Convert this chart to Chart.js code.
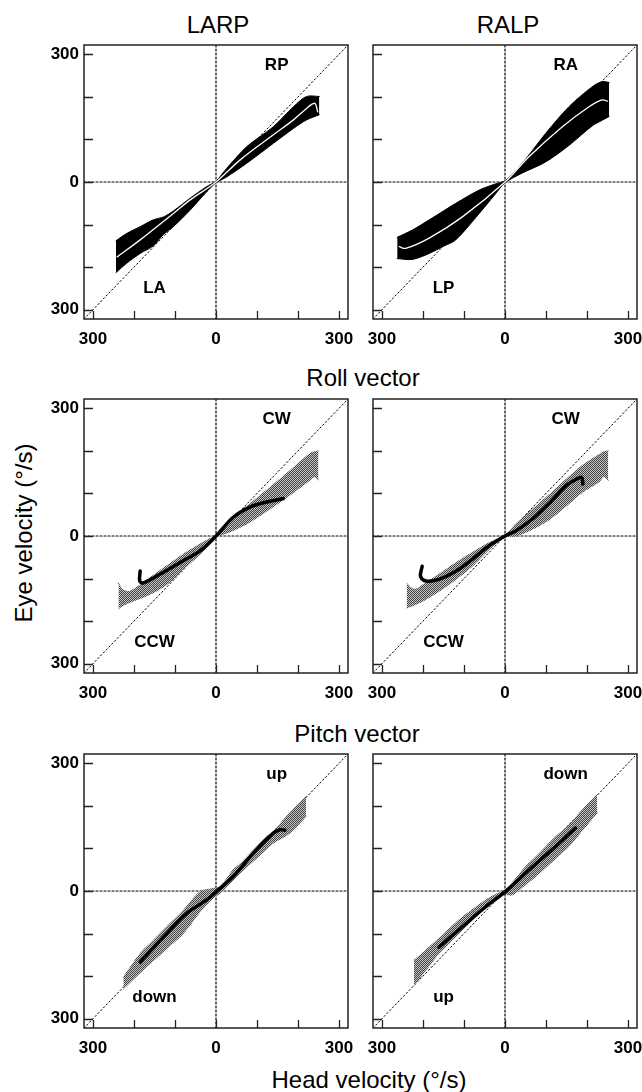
<!DOCTYPE html>
<html>
<head>
<meta charset="utf-8">
<script src="https://cdn.jsdelivr.net/npm/chart.js@4.4.1/dist/chart.umd.min.js"></script>
<style>
  body { margin: 0; width: 642px; height: 1092px; position: relative; overflow: hidden; background: #fff;
         font-family: "Liberation Sans", Arial, Helvetica, sans-serif; }
  canvas { position: absolute; }
  .t { position: absolute; font-size: 24px; line-height: 1; color: #000; white-space: nowrap;
       transform: translate(-50%, -50%); }
</style>
</head>
<body>
<div class="t" style="left:218px;top:25px">LARP</div>
<div class="t" style="left:508px;top:25px">RALP</div>
<div class="t" style="left:363px;top:378px">Roll vector</div>
<div class="t" style="left:357px;top:734px">Pitch vector</div>
<div class="t" style="left:369px;top:1080px">Head velocity (°/s)</div>
<div class="t" style="left:24px;top:533px;transform:translate(-50%,-50%) rotate(-90deg)">Eye velocity (°/s)</div>

<canvas id="larp" width="329" height="320" style="left:24px;top:33px"></canvas>
<canvas id="ralp" width="329" height="320" style="left:313px;top:33px"></canvas>
<canvas id="rollL" width="329" height="320" style="left:24px;top:387px"></canvas>
<canvas id="rollR" width="329" height="320" style="left:313px;top:387px"></canvas>
<canvas id="pitchL" width="329" height="320" style="left:24px;top:742px"></canvas>
<canvas id="pitchR" width="329" height="320" style="left:313px;top:742px"></canvas>

<script>
// axes: head velocity (x) vs eye velocity (y), deg/s
const axisMin = -322;
const axisMax = 322;
const tickValues = [-300, -200, -100, 0, 100, 200, 300];
const labelTicks = [-300, 0, 300];
const refLine = [-322, 322];
const zeroPair = [0, 0];

// LARP
const larpX = [-244, -218, -185, -153, -128, -104, -63, -23, 0, 26, 75, 140, 189, 221, 252];
const larpUpper = [-138, -121, -105, -89, -82, -68, -38, -11, 2, 32, 83, 130, 177, 201, 201];
const larpLower = [-213, -191, -168, -150, -123, -105, -66, -23, -2, 12, 44, 91, 126, 146, 158];
const larpMeanX = [-241, -185, -104, -63, 0, 59, 140, 189, 221, 241, 248];
const larpMeanY = [-176, -136, -74, -42, 0, 52, 111, 146, 173, 185, 165];
const larpNotes = ['RP', 'LA'];

// RALP
const ralpX = [-263, -226, -185, -150, -120, -63, -25, 0, 42, 99, 156, 213, 237, 254];
const ralpUpper = [-130, -113, -89, -68, -50, -19, -5, 3, 44, 114, 177, 224, 236, 234];
const ralpLower = [-180, -182, -168, -151, -136, -74, -30, -2, 21, 47, 86, 132, 145, 154];
const ralpMeanX = [-258, -242, -185, -104, 0, 59, 140, 205, 237, 250];
const ralpMeanY = [-152, -156, -132, -82, 0, 60, 130, 177, 193, 190];
const ralpNotes = ['RA', 'LP'];

// Roll vector, left
const rollLX = [-238, -228, -210, -161, -120, -80, -39, -7, 0, 42, 83, 164, 229, 240, 250];
const rollLUpper = [-110, -126, -130, -98, -70, -43, -19, -2, 1, 45, 76, 140, 194, 198, 200];
const rollLLower = [-171, -164, -156, -137, -114, -78, -43, -11, -3, 13, 33, 85, 131, 139, 131];
const rollLMeanX = [-185, -186, -177, -137, -80, -39, 0, 42, 83, 124, 164];
const rollLMeanY = [-82, -106, -110, -90, -58, -35, 0, 44, 68, 80, 88];
const rollLNotes = ['CW', 'CCW'];

// Roll vector, right
const rollRX = [-240, -226, -214, -202, -161, -120, -80, -39, 0, 26, 67, 110, 150, 189, 229, 241, 252];
const rollRUpper = [-111, -124, -124, -116, -90, -63, -39, -16, 1, 28, 63, 99, 134, 166, 191, 198, 200];
const rollRLower = [-169, -164, -159, -154, -130, -102, -71, -32, -3, 0, 16, 40, 71, 103, 127, 140, 131];
const rollRMeanX = [-202, -206, -193, -161, -120, -80, -39, 0, 26, 67, 110, 150, 175, 187, 190];
const rollRMeanY = [-71, -95, -106, -102, -83, -55, -23, 0, 12, 40, 79, 119, 134, 138, 122];
const rollRNotes = ['CW', 'CCW'];

// Pitch vector, left
const pitchLX = [-226, -185, -161, -120, -80, -39, -7, 10, 42, 59, 124, 140, 180, 220];
const pitchLUpper = [-203, -147, -124, -84, -46, -2, 6, 10, 50, 64, 128, 140, 184, 223];
const pitchLLower = [-230, -192, -171, -135, -100, -49, -17, -5, 26, 42, 99, 113, 136, 176];
const pitchLMeanX = [-185, -120, -72, -23, 0, 42, 91, 140, 156, 168];
const pitchLMeanY = [-167, -100, -53, -21, -2, 34, 89, 136, 144, 143];
const pitchLNotes = ['up', 'down'];

// Pitch vector, right
const pitchRX = [-222, -185, -161, -104, -88, -47, -23, 0, 18, 50, 75, 124, 156, 189, 225];
const pitchRUpper = [-163, -132, -111, -61, -50, -21, -8, 2, 20, 57, 80, 128, 155, 191, 227];
const pitchRLower = [-222, -176, -147, -92, -77, -37, -13, -8, -9, 15, 34, 77, 105, 143, 184];
const pitchRMeanX = [-161, -104, -47, 0, 59, 124, 172];
const pitchRMeanY = [-132, -84, -37, -2, 50, 105, 148];
const pitchRNotes = ['down', 'up'];

const FONT = '"Liberation Sans", Arial, Helvetica, sans-serif';
Chart.defaults.color = '#000';
Chart.defaults.font.family = FONT;

function pts(xs, ys) {
  return xs.map((x, i) => ({ x: x, y: ys[i] }));
}

// fine grey halftone like the printed figure
function stipple(ctx) {
  const tile = document.createElement('canvas');
  tile.width = 2;
  tile.height = 2;
  const g = tile.getContext('2d');
  g.fillStyle = '#c4c4c4';
  g.fillRect(0, 0, 2, 2);
  g.fillStyle = '#444';
  g.fillRect(0, 0, 1, 1);
  g.fillRect(1, 1, 1, 1);
  return ctx.createPattern(tile, 'repeat');
}

// box frame, inward tick marks and quadrant labels
const panelDecor = {
  id: 'panelDecor',
  afterDraw(chart, args, opts) {
    const { ctx, chartArea: a, scales: { x, y } } = chart;
    ctx.save();
    ctx.strokeStyle = '#222';
    ctx.lineWidth = 1.5;
    ctx.strokeRect(a.left, a.top, a.width, a.height);
    ctx.lineWidth = 1.3;
    ctx.beginPath();
    tickValues.forEach(v => {
      const py = Math.round(y.getPixelForValue(v)) + 0.5;
      ctx.moveTo(a.left, py);
      ctx.lineTo(a.left + 9, py);
      const px = Math.round(x.getPixelForValue(v)) + 0.5;
      ctx.moveTo(px, a.bottom);
      ctx.lineTo(px, a.bottom - 8);
    });
    ctx.stroke();

    ctx.font = 'bold 17px ' + FONT;
    ctx.fillStyle = '#000';
    ctx.textAlign = 'center';
    ctx.textBaseline = 'middle';
    ctx.fillText(opts.notes[0], x.getPixelForValue(148), y.getPixelForValue(274));
    ctx.fillText(opts.notes[1], x.getPixelForValue(-150), y.getPixelForValue(-251));
    ctx.restore();
  }
};

function axis(showLabels, isX) {
  return {
    type: 'linear',
    min: axisMin,
    max: axisMax,
    grid: { display: false, drawTicks: false },
    border: { display: false },
    afterBuildTicks: s => { s.ticks = labelTicks.map(v => ({ value: v })); },
    afterFit: s => {
      if (isX) { s.height = 34; s.paddingLeft = 0; s.paddingRight = 0; }
      else { s.width = 60; s.paddingTop = 0; s.paddingBottom = 0; }
    },
    ticks: {
      display: showLabels,
      padding: isX ? 10 : 5,
      autoSkip: false,
      maxRotation: 0,
      font: { size: 17, weight: 'bold' },
      color: '#000',
      callback: v => String(Math.abs(v))
    }
  };
}

function buildPanel(p) {
  const canvas = document.getElementById(p.id);
  const ctx = canvas.getContext('2d');
  const bandColor = p.dark ? '#000' : stipple(ctx);
  new Chart(canvas, {
    type: 'line',
    data: {
      datasets: [
        { data: pts(p.meanX, p.meanY), borderColor: p.dark ? '#fff' : '#000',
          borderWidth: p.dark ? 1.3 : 3.5, tension: 0.35, fill: false },
        { data: pts(p.x, p.upper), borderColor: bandColor, backgroundColor: bandColor,
          borderWidth: 1, tension: 0.3, fill: '+1' },
        { data: pts(p.x, p.lower), borderColor: bandColor, borderWidth: 1, tension: 0.3, fill: false },
        { data: pts(refLine, refLine), borderColor: '#000', borderWidth: 1, borderDash: [1.5, 2.5], fill: false },
        { data: pts(refLine, zeroPair), borderColor: '#000', borderWidth: 1.2, borderDash: [2, 2], fill: false },
        { data: pts(zeroPair, refLine), borderColor: '#000', borderWidth: 1.2, borderDash: [2, 2], fill: false }
      ]
    },
    options: {
      responsive: false,
      animation: false,
      events: [],
      layout: { padding: { top: 12, right: 5, left: 0, bottom: 0 } },
      elements: { point: { radius: 0 }, line: { borderCapStyle: 'round', borderJoinStyle: 'round' } },
      plugins: {
        legend: { display: false },
        tooltip: { enabled: false },
        panelDecor: { notes: p.notes }
      },
      scales: {
        x: axis(true, true),
        y: axis(p.yLabels, false)
      }
    },
    plugins: [panelDecor]
  });
}

[
  { id: 'larp', x: larpX, upper: larpUpper, lower: larpLower, meanX: larpMeanX, meanY: larpMeanY, notes: larpNotes, dark: true, yLabels: true },
  { id: 'ralp', x: ralpX, upper: ralpUpper, lower: ralpLower, meanX: ralpMeanX, meanY: ralpMeanY, notes: ralpNotes, dark: true, yLabels: false },
  { id: 'rollL', x: rollLX, upper: rollLUpper, lower: rollLLower, meanX: rollLMeanX, meanY: rollLMeanY, notes: rollLNotes, dark: false, yLabels: true },
  { id: 'rollR', x: rollRX, upper: rollRUpper, lower: rollRLower, meanX: rollRMeanX, meanY: rollRMeanY, notes: rollRNotes, dark: false, yLabels: false },
  { id: 'pitchL', x: pitchLX, upper: pitchLUpper, lower: pitchLLower, meanX: pitchLMeanX, meanY: pitchLMeanY, notes: pitchLNotes, dark: false, yLabels: true },
  { id: 'pitchR', x: pitchRX, upper: pitchRUpper, lower: pitchRLower, meanX: pitchRMeanX, meanY: pitchRMeanY, notes: pitchRNotes, dark: false, yLabels: false }
].forEach(buildPanel);
</script>
</body>
</html>
